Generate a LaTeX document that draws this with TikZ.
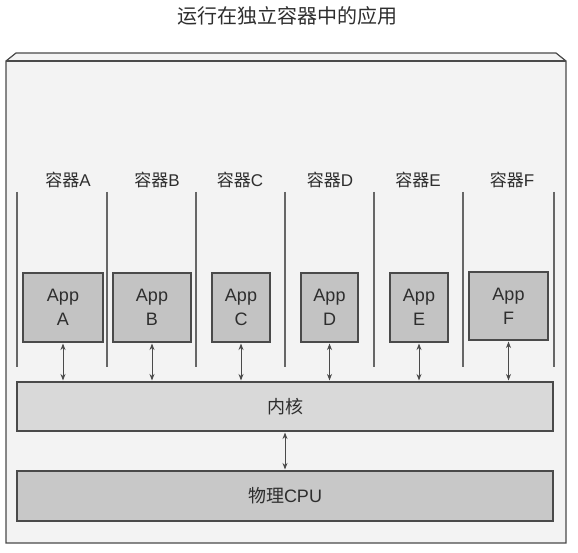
\documentclass[tikz,border=0pt]{standalone}
\usepackage{fontspec}
\setmainfont{Liberation Sans}
\newfontfamily\cjk{Noto Sans CJK SC}
\usetikzlibrary{arrows.meta}

\definecolor{boxline}{HTML}{4A4A4A}
\definecolor{sepgray}{HTML}{666666}
\definecolor{txtgray}{HTML}{2E2E2E}
\definecolor{outerfill}{HTML}{F3F3F3}
\definecolor{appgray}{HTML}{C3C3C3}
\definecolor{kernelgray}{HTML}{D9D9D9}
\definecolor{cpugray}{HTML}{C8C8C8}

\tikzset{
	appbox/.style={draw=boxline, fill=appgray, line width=1.1pt, minimum height=69pt, inner sep=0pt, align=center, text=txtgray, font=\fontsize{18}{24}\selectfont},
	layerbox/.style={draw=boxline, line width=1.1pt, minimum width=536pt, inner sep=0pt, text=txtgray, font=\fontsize{18}{22}\selectfont},
	cname/.style={text=txtgray, font=\fontsize{17}{20}\selectfont},
	sepline/.style={draw=sepgray, line width=1.1pt},
	biarrow/.style={{Stealth[length=6.5pt,width=5pt]}-{Stealth[length=6.5pt,width=5pt]}, draw=boxline, line width=0.9pt, shorten <=1pt, shorten >=1pt},
}

\begin{document}
\begin{tikzpicture}[x=1pt, y=-1pt]
		\useasboundingbox (0,0) rectangle (578,553);
		
		% Define outer box and title
		\draw[fill=outerfill, draw=boxline, line width=1.2pt] (6,61) -- (16,53) -- (556,53) -- (566,61) -- (566,543) -- (6,543) -- cycle;
		\draw[boxline, line width=1.2pt] (6,61) -- (566,61);
		\node[text=txtgray, font=\cjk\fontsize{20}{24}\selectfont] (Title) at (287,16) {运行在独立容器中的应用};
		
		% Define kernel and CPU
		\node[layerbox, fill=kernelgray, minimum height=49pt] (Kernel) at (285,406.5) {{\cjk 内核}};
		\node[layerbox, fill=cpugray, minimum height=50pt] (CPU) at (285,496) {{\cjk 物理}CPU};
		
		\draw[biarrow] (Kernel.south) -- (CPU.north);
		
		
		% Define container A
		\node[cname] (NameA) at (68,180) {{\cjk 容器}A};
		\node[appbox, minimum width=80pt] (AppA) at (63,307.5) {App\\A};
		
		\draw[sepline] (17,192) -- (17,367);
		\draw[sepline] (107,192) -- (107,367);
		\draw[biarrow] (AppA.south) -- (AppA.south |- Kernel.north);
		
		% Define container B
		\node[cname] (NameB) at (157,180) {{\cjk 容器}B};
		\node[appbox, minimum width=78pt] (AppB) at (152,307.5) {App\\B};
		
		\draw[sepline] (196,192) -- (196,367);
		\draw[biarrow] (AppB.south) -- (AppB.south |- Kernel.north);
		
		% Define container C
		\node[cname] (NameC) at (240,180) {{\cjk 容器}C};
		\node[appbox, minimum width=58pt] (AppC) at (241,307.5) {App\\C};
		
		\draw[sepline] (285,192) -- (285,367);
		\draw[biarrow] (AppC.south) -- (AppC.south |- Kernel.north);
		
		% Define container D
		\node[cname] (NameD) at (330,180) {{\cjk 容器}D};
		\node[appbox, minimum width=57pt] (AppD) at (329.5,307.5) {App\\D};
		
		\draw[sepline] (374,192) -- (374,367);
		\draw[biarrow] (AppD.south) -- (AppD.south |- Kernel.north);
		
		% Define container E
		\node[cname] (NameE) at (418,180) {{\cjk 容器}E};
		\node[appbox, minimum width=58pt] (AppE) at (419,307.5) {App\\E};
		
		\draw[sepline] (463,192) -- (463,367);
		\draw[biarrow] (AppE.south) -- (AppE.south |- Kernel.north);
		
		% Define container F
		\node[cname] (NameF) at (512,180) {{\cjk 容器}F};
		\node[appbox, minimum width=79pt, minimum height=68pt] (AppF) at (508.5,306) {App\\F};
		
		\draw[sepline] (554,192) -- (554,367);
		\draw[biarrow] (AppF.south) -- (AppF.south |- Kernel.north);
	\end{tikzpicture}
\end{document}
